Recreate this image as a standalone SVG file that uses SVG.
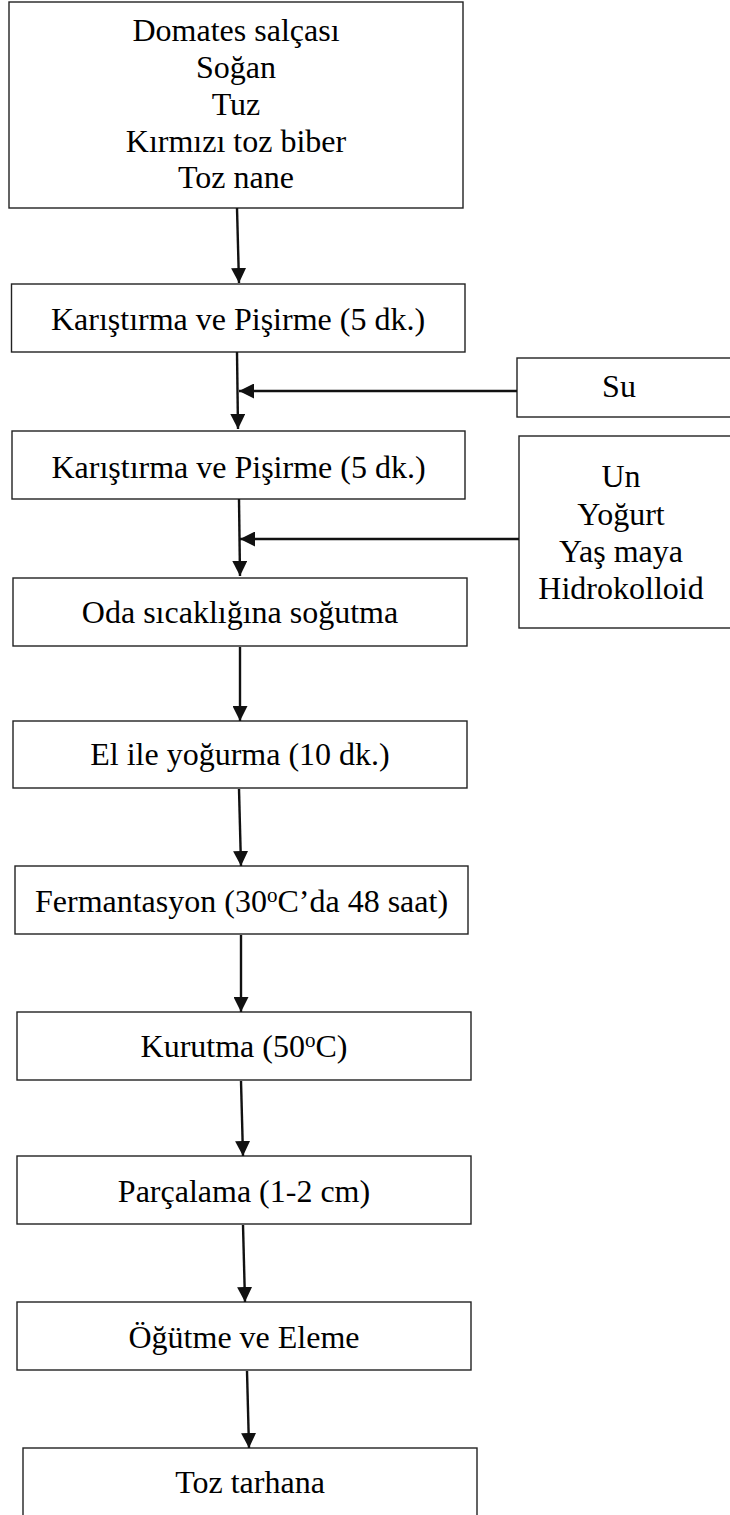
<svg xmlns="http://www.w3.org/2000/svg" width="730" height="1515" viewBox="0 0 730 1515">
<style>
.box{fill:#fff;stroke:#222;stroke-width:1.4}
.t{font-family:"Liberation Serif","Times New Roman",serif;font-size:32px;fill:#000;text-anchor:middle}
.c{stroke:#111;stroke-width:2.4;fill:none;marker-end:url(#ah)}
</style>
<defs>
<marker id="ah" markerUnits="userSpaceOnUse" markerWidth="15" markerHeight="15" refX="15" refY="7.5" orient="auto" viewBox="0 0 15 15">
<path d="M0,0 L15,7.5 L0,15 z" fill="#111"/>
</marker>
</defs>
<rect width="730" height="1515" fill="#fff"/>
<g id="n1"><rect class="box" x="9" y="2" width="454" height="206"/>
<text class="t" x="236" y="41">Domates salçası</text>
<text class="t" x="236" y="78">Soğan</text>
<text class="t" x="236" y="115">Tuz</text>
<text class="t" x="236" y="152">Kırmızı toz biber</text>
<text class="t" x="236" y="188">Toz nane</text></g>
<g id="n2"><rect class="box" x="11.5" y="284" width="453.5" height="68"/>
<text class="t" x="238" y="330">Karıştırma ve Pişirme (5 dk.)</text></g>
<g id="su"><rect class="box" x="517" y="358" width="220" height="59"/>
<text class="t" x="619" y="397">Su</text></g>
<g id="n3"><rect class="box" x="12" y="431" width="453" height="68"/>
<text class="t" x="238.5" y="478">Karıştırma ve Pişirme (5 dk.)</text></g>
<g id="un"><rect class="box" x="519" y="436" width="220" height="192"/>
<text class="t" x="621" y="487">Un</text>
<text class="t" x="621" y="525">Yoğurt</text>
<text class="t" x="621" y="562">Yaş maya</text>
<text class="t" x="621" y="599">Hidrokolloid</text></g>
<g id="n4"><rect class="box" x="13" y="578" width="454" height="68"/>
<text class="t" x="240" y="623">Oda sıcaklığına soğutma</text></g>
<g id="n5"><rect class="box" x="13" y="721" width="454" height="67"/>
<text class="t" x="240" y="765">El ile yoğurma (10 dk.)</text></g>
<g id="n6"><rect class="box" x="15" y="866" width="453" height="68"/>
<text class="t" x="241.5" y="912">Fermantasyon (30<tspan font-size="21" dy="-10">o</tspan><tspan dy="10">C’da 48 saat)</tspan></text></g>
<g id="n7"><rect class="box" x="17" y="1012" width="454" height="68"/>
<text class="t" x="244" y="1057">Kurutma (50<tspan font-size="21" dy="-10">o</tspan><tspan dy="10">C)</tspan></text></g>
<g id="n8"><rect class="box" x="17" y="1156" width="454" height="68"/>
<text class="t" x="244" y="1202">Parçalama (1-2 cm)</text></g>
<g id="n9"><rect class="box" x="17" y="1302" width="454" height="68"/>
<text class="t" x="244" y="1348">Öğütme ve Eleme</text></g>
<g id="n10"><rect class="box" x="23" y="1448" width="454" height="80"/>
<text class="t" x="250" y="1493">Toz tarhana</text></g>
<g id="connectors">
<line class="c" x1="237" y1="208" x2="239" y2="283"/>
<line class="c" x1="237" y1="352" x2="238" y2="429"/>
<line class="c" x1="517" y1="391" x2="239" y2="391"/>
<line class="c" x1="239" y1="499" x2="240" y2="576"/>
<line class="c" x1="519" y1="539" x2="240" y2="539"/>
<line class="c" x1="240" y1="647" x2="240" y2="721"/>
<line class="c" x1="239" y1="789" x2="241" y2="866"/>
<line class="c" x1="241" y1="935" x2="241" y2="1012"/>
<line class="c" x1="241" y1="1081" x2="243" y2="1156"/>
<line class="c" x1="243" y1="1225" x2="245" y2="1302"/>
<line class="c" x1="247" y1="1371" x2="249" y2="1448"/>
</g>
</svg>
